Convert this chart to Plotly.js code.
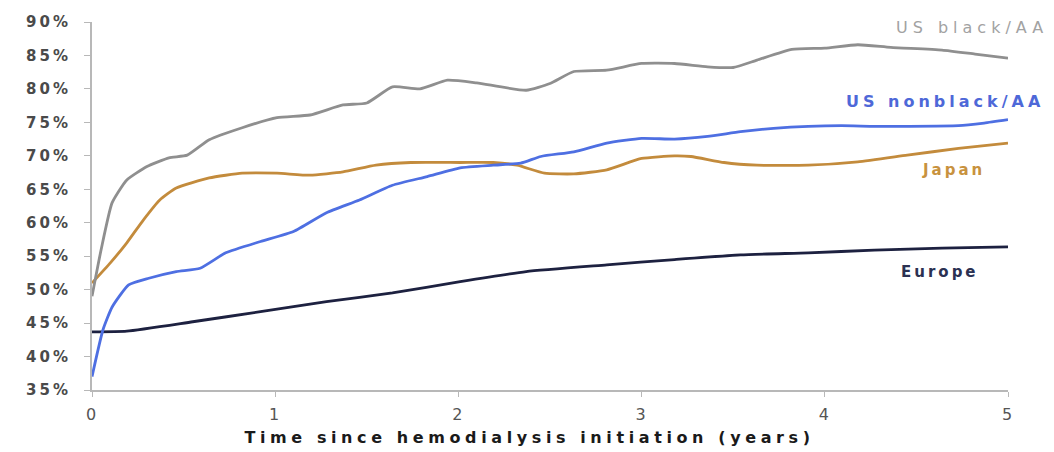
<!DOCTYPE html>
<html>
<head>
<meta charset="utf-8">
<script src="https://cdn.plot.ly/plotly-3.0.1.min.js"></script>
<style>
  html, body { margin: 0; padding: 0; background: #fff; }
  #chart { width: 1054px; height: 452px; }
  .ytick text { letter-spacing: 3px; }
  .xtick text { letter-spacing: 2px; }
  .annotation-text { letter-spacing: 3px; }
  g.annotation[data-index="0"] .annotation-text { letter-spacing: 5px; }
  g.annotation[data-index="1"] .annotation-text { letter-spacing: 4px; }
  g.annotation[data-index="4"] .annotation-text { letter-spacing: 4.6px; }
</style>
</head>
<body>
<div id="chart"></div>
<script>
// Years since hemodialysis initiation and share of patients (%) per region
const usBlackYears = [0, 0.05, 0.11, 0.19, 0.30, 0.42, 0.52, 0.64, 0.82, 1.01, 1.19, 1.37, 1.50, 1.64, 1.79, 1.94, 2.10, 2.37, 2.50, 2.63, 2.81, 3.00, 3.18, 3.36, 3.50, 3.63, 3.82, 4.00, 4.18, 4.36, 4.64, 4.82, 5.00];
const usBlackPct   = [49, 56, 63, 66.4, 68.4, 69.7, 70.1, 72.4, 74.2, 75.7, 76.1, 77.6, 77.9, 80.3, 80.0, 81.3, 80.9, 79.8, 80.8, 82.6, 82.8, 83.8, 83.8, 83.3, 83.2, 84.3, 85.9, 86.1, 86.6, 86.2, 85.8, 85.2, 84.6];

const usNonblackYears = [0, 0.06, 0.11, 0.20, 0.31, 0.46, 0.59, 0.73, 0.92, 1.10, 1.28, 1.46, 1.64, 1.83, 2.01, 2.19, 2.34, 2.45, 2.63, 2.81, 3.00, 3.18, 3.36, 3.54, 3.72, 3.91, 4.09, 4.27, 4.45, 4.73, 4.87, 5.00];
const usNonblackPct   = [37, 44, 47.4, 50.7, 51.7, 52.7, 53.2, 55.5, 57.2, 58.7, 61.5, 63.4, 65.6, 66.9, 68.2, 68.6, 68.9, 69.9, 70.6, 71.9, 72.6, 72.5, 72.9, 73.6, 74.1, 74.4, 74.5, 74.4, 74.4, 74.5, 74.9, 75.4];

const japanYears = [0, 0.10, 0.19, 0.28, 0.37, 0.46, 0.64, 0.82, 1.01, 1.19, 1.37, 1.55, 1.74, 2.01, 2.19, 2.32, 2.47, 2.63, 2.81, 3.00, 3.18, 3.27, 3.45, 3.63, 3.91, 4.18, 4.45, 4.73, 5.00];
const japanPct   = [51, 54, 57, 60.4, 63.4, 65.2, 66.7, 67.4, 67.4, 67.1, 67.6, 68.6, 69.0, 69.0, 69.0, 68.6, 67.4, 67.3, 67.9, 69.6, 70.0, 69.9, 69.0, 68.6, 68.6, 69.1, 70.1, 71.1, 71.9];

const europeYears = [0, 0.19, 0.55, 0.92, 1.28, 1.64, 2.01, 2.37, 2.81, 3.18, 3.54, 3.91, 4.27, 4.64, 5.00];
const europePct   = [43.7, 43.8, 45.2, 46.7, 48.2, 49.5, 51.2, 52.7, 53.7, 54.5, 55.2, 55.5, 55.9, 56.2, 56.4];

const xTickVals = [0, 1, 2, 3, 4, 5];
const xTickText = ['0', '1', '2', '3', '4', '5'];
const yTickVals = [35, 40, 45, 50, 55, 60, 65, 70, 75, 80, 85, 90];
const yTickText = ['35%', '40%', '45%', '50%', '55%', '60%', '65%', '70%', '75%', '80%', '85%', '90%'];

const seriesNames = ['US black/AA', 'US nonblack/AA', 'Japan', 'Europe'];
const xTitle = 'Time since hemodialysis initiation (years)';

const FONT = 'DejaVu Sans, Liberation Sans, sans-serif';

function lineTrace(name, x, y, color) {
  return {
    type: 'scatter', mode: 'lines', name: name, x: x, y: y,
    line: { color: color, width: 2.8, shape: 'spline', smoothing: 0.5 },
    hoverinfo: 'x+y+name'
  };
}

const traces = [
  lineTrace(seriesNames[3], europeYears, europePct, '#1d2140'),
  lineTrace(seriesNames[2], japanYears, japanPct, '#c38b3c'),
  lineTrace(seriesNames[1], usNonblackYears, usNonblackPct, '#4e6fe2'),
  lineTrace(seriesNames[0], usBlackYears, usBlackPct, '#8f8f8f')
];

// Series labels beside the line ends (paper x for the two that sit past the axis end)
const labels = [
  { text: seriesNames[0], xref: 'paper', x: 1.034, y: 89.2, xanchor: 'right', color: '#a2a2a2', weight: 'normal', size: 16 },
  { text: seriesNames[1], xref: 'paper', x: 1.034, y: 78.1, xanchor: 'right', color: '#4e68d8', weight: 'bold', size: 16 },
  { text: seriesNames[2], xref: 'x', x: 4.70, y: 67.9, xanchor: 'center', color: '#c8923e', weight: 'bold', size: 15 },
  { text: seriesNames[3], xref: 'x', x: 4.63, y: 52.7, xanchor: 'center', color: '#2b3152', weight: 'bold', size: 15 }
];

const annotations = labels.map(l => ({
  text: l.text, x: l.x, y: l.y, xref: l.xref, yref: 'y',
  xanchor: l.xanchor, yanchor: 'middle', showarrow: false,
  font: { family: FONT, size: l.size, color: l.color, weight: l.weight }
}));

annotations.push({
  text: xTitle, xref: 'paper', yref: 'paper', x: 0.478, y: -0.128,
  xanchor: 'center', yanchor: 'middle', showarrow: false,
  font: { family: FONT, size: 16, color: '#1a1a1a', weight: 'bold' }
});

const layout = {
  width: 1054, height: 452,
  margin: { l: 92, r: 46, t: 22, b: 62 },
  paper_bgcolor: '#ffffff', plot_bgcolor: '#ffffff',
  showlegend: false,
  font: { family: FONT },
  xaxis: {
    range: [0, 5], tickvals: xTickVals, ticktext: xTickText,
    showgrid: false, zeroline: false,
    showline: true, linecolor: '#b8b8b8', linewidth: 2,
    ticks: 'outside', ticklen: 5, tickcolor: '#b8b8b8', tickwidth: 1,
    ticklabelstandoff: 4,
    tickfont: { family: FONT, size: 16, color: '#555555' }
  },
  yaxis: {
    range: [35, 90], tickvals: yTickVals, ticktext: yTickText,
    showgrid: false, zeroline: false,
    showline: true, linecolor: '#b8b8b8', linewidth: 2,
    ticks: 'outside', ticklen: 6, tickcolor: '#b8b8b8', tickwidth: 1,
    ticklabelstandoff: 10,
    tickfont: { family: FONT, size: 15, color: '#4a4a4a', weight: 'bold' }
  },
  annotations: annotations
};

Plotly.newPlot('chart', traces, layout, { displayModeBar: false, staticPlot: true });
</script>
</body>
</html>
